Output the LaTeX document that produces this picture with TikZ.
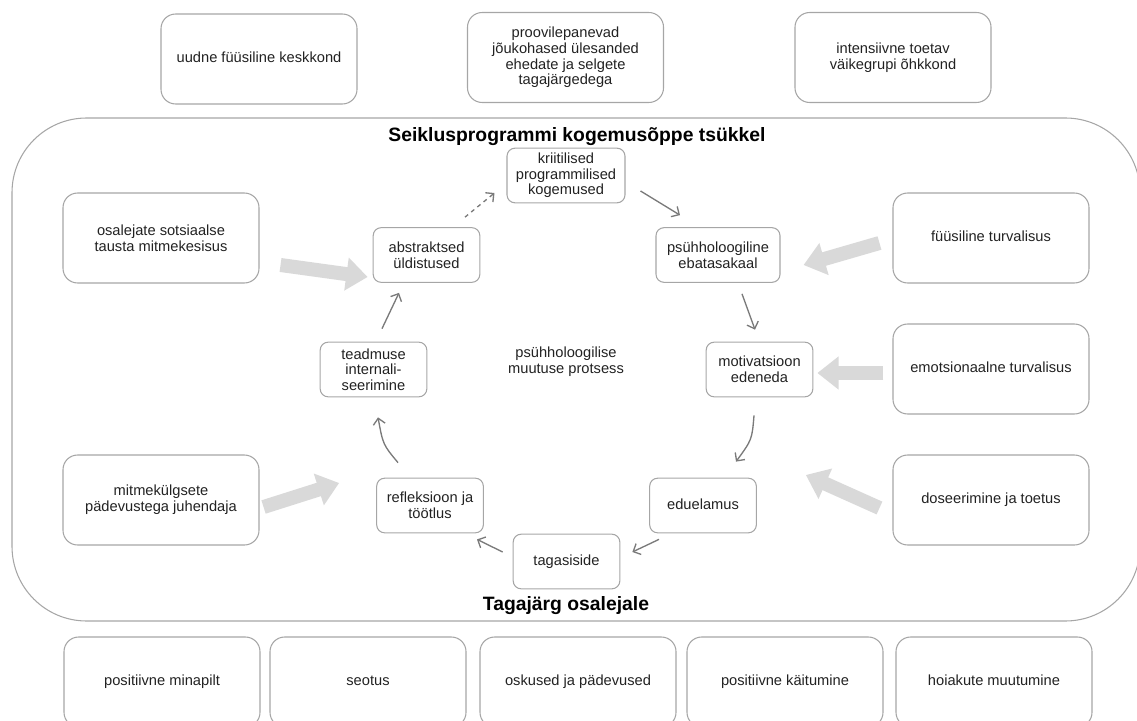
\documentclass[tikz,border=0pt]{standalone}
\usepackage{fontspec}
\setmainfont{Liberation Sans}
\usepackage{tikz}
\usetikzlibrary{arrows.meta,calc,positioning}
\definecolor{boxgray}{HTML}{A6A6A6}
\definecolor{flowgray}{HTML}{7A7A7A}
\definecolor{widegray}{HTML}{D9D9D9}
\definecolor{txt}{HTML}{222222}

\begin{document}
\begin{tikzpicture}[x=0.75pt,y=-0.75pt,
  every node/.style={text=txt,font=\fontsize{11}{11.7}\selectfont,align=center},
  outerbox/.style={draw=boxgray,line width=0.8pt,rounded corners=11pt,minimum width=147pt,minimum height=67.5pt,inner sep=0pt},
  oneline/.style={outerbox,text height=8pt,text depth=2.5pt},
  cyclebox/.style={draw=boxgray,line width=0.8pt,rounded corners=6pt,minimum width=80pt,minimum height=41pt,inner sep=1pt},
  flow/.style={draw=flowgray,line width=1pt,-{Straight Barb[length=4.5pt,width=9pt]}},
  wide/.style={draw=widegray,line width=10.5pt,-{Triangle[length=16pt,width=24pt]}},
  heading/.style={font=\fontsize{14.5}{16}\selectfont\bfseries,text=black}]
\path[use as bounding box] (0,0) rectangle (1137,720);
\clip (0,0) rectangle (1137,720);

% frame of the cycle
\draw[boxgray,line width=0.8pt,rounded corners=56pt] (12,118) rectangle (1140,621);
\node[heading] (title) at (577,137) {Seiklusprogrammi kogemusõppe tsükkel};
\node[heading] (result) at (566,606) {Tagajärg osalejale};

% surrounding factors
\node[oneline] (uudne) at (259,59) {uudne füüsiline keskkond};
\node[outerbox] (proov) at (565.5,57.5) {proovilepanevad\\jõukohased ülesanded\\ehedate ja selgete\\tagajärgedega};
\node[outerbox] (inten) at (893,57.5) {intensiivne toetav\\väikegrupi õhkkond};
\node[outerbox] (osal) at (161,238) {osalejate sotsiaalse\\tausta mitmekesisus};
\node[outerbox] (mitm) at (161,500) {mitmekülgsete\\pädevustega juhendaja};
\node[oneline] (fuus) at (991,238) {füüsiline turvalisus};
\node[oneline] (emot) at (991,369) {emotsionaalne turvalisus};
\node[oneline] (dos) at (991,500) {doseerimine ja toetus};

% the cycle
\node[cyclebox,minimum width=88.5pt] (krit) at (566,175.5) {kriitilised\\programmilised\\kogemused};
\node[cyclebox,minimum width=93pt] (psych) at (718,255) {psühholoogiline\\ebatasakaal};
\node[cyclebox] (motiv) at (759.5,369.5) {motivatsioon\\edeneda};
\node[cyclebox,text height=8pt,text depth=2.5pt] (edu) at (703,505.5) {eduelamus};
\node[cyclebox,text height=8pt,text depth=2.5pt] (tagas) at (566.5,561.5) {tagasiside};
\node[cyclebox] (refl) at (430,505.5) {refleksioon ja\\töötlus};
\node[cyclebox] (teadm) at (373.5,369.5) {teadmuse\\internali-\\seerimine};
\node[cyclebox] (abstr) at (426.5,255) {abstraktsed\\üldistused};
\node (protsess) at (566,361.5) {psühholoogilise\\muutuse protsess};

\draw[flow,dashed] ($(abstr.north)+(38.5,-10)$) -- ($(krit.west)+(-12,17.5)$);
\draw[flow] ($(krit.east)+(15,15.5)$) -- ($(psych.north)+(-38,-12)$);
\draw[flow] ($(psych.south)+(24,11)$) -- ($(motiv.north)+(-4.5,-12)$);
\draw[flow] ($(motiv.south)+(-5.5,18)$) .. controls ($(edu.north)+(49,-38)$) .. ($(edu.north)+(33,-16)$);
\draw[flow] ($(edu.south)+(-44,6)$) -- ($(tagas.east)+(12,-9.5)$);
\draw[flow] ($(tagas.west)+(-10,-9.5)$) -- ($(refl.south)+(47,6)$);
\draw[flow] ($(refl.north)+(-32,-15)$) .. controls ($(refl.north)+(-47,-33)$) .. ($(teadm.south)+(4.5,20)$);
\draw[flow] ($(teadm.north)+(8.5,-13)$) -- ($(abstr.south)+(-27.5,10)$);

% influences on the cycle
\draw[wide] ($(osal.east)+(21,27)$) -- ($(abstr.west)+(-5,22)$);
\draw[wide] ($(mitm.east)+(4,7)$) -- ($(refl.west)+(-37,-22.5)$);
\draw[wide] ($(fuus.west)+(-13,5)$) -- ($(psych.east)+(23,10)$);
\draw[wide] ($(emot.west)+(-9,4)$) -- ($(motiv.east)+(4,3.5)$);
\draw[wide] ($(dos.west)+(-13,8)$) -- ($(edu.east)+(49,-30.5)$);

% outcomes
\node[oneline] (mina) at (162,682) {positiivne minapilt};
\node[oneline] (seot) at (368,682) {seotus};
\node[oneline] (osk) at (578,682) {oskused ja pädevused};
\node[oneline] (kait) at (785,682) {positiivne käitumine};
\node[oneline] (hoiak) at (994,682) {hoiakute muutumine};
\end{tikzpicture}
\end{document}
